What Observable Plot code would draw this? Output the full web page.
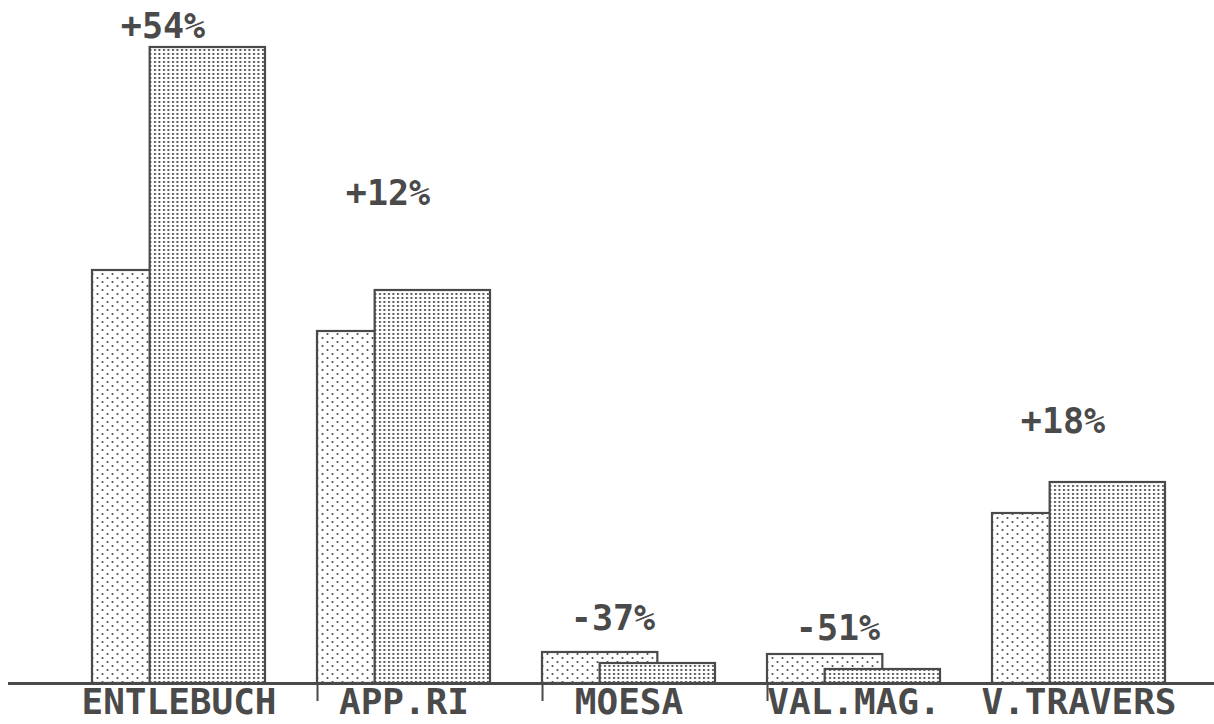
<!DOCTYPE html>
<html>
<head>
<meta charset="utf-8">
<script src="https://cdn.jsdelivr.net/npm/d3@7"></script>
<script src="https://cdn.jsdelivr.net/npm/@observablehq/plot@0.6"></script>
<style>
  html, body { margin: 0; padding: 0; background: #fff; }
  #chart svg { display: block; }
</style>
</head>
<body>
<div id="chart"></div>
<script>
// ---- data ----
const categories = ["ENTLEBUCH", "APP.RI", "MOESA", "VAL.MAG.", "V.TRAVERS"];
const before = [413, 352, 31, 29, 170];
const after = [636, 393, 20, 14, 201];
const changeLabels = ["+54%", "+12%", "-37%", "-51%", "+18%"];
const labelAt = [657, 490, 65, 55, 262];
const tickedCategories = ["APP.RI", "MOESA", "VAL.MAG."];

const rows = categories.map((c, i) => ({
  cat: c, before: before[i], after: after[i], change: changeLabels[i], labelAt: labelAt[i]
}));

// ---- layout ----
const W = 1214, H = 724;
const mL = 8, mR = 0;
const pInner = 0.233, pOuter = 0.2905;
const step = (W - mL - mR) / (categories.length - pInner + 2 * pOuter);
const bw = step * (1 - pInner);
const ink = "#4a4a4a";
const font = "DejaVu Sans Mono";

const svg = Plot.plot({
  width: W,
  height: H,
  marginTop: 47,
  marginBottom: 41,
  marginLeft: mL,
  marginRight: mR,
  x: {type: "band", domain: categories, paddingInner: pInner, paddingOuter: pOuter, align: 0.626, axis: null},
  y: {domain: [0, 636], axis: null},
  marks: [
    Plot.ruleX(tickedCategories, {x: d => d, y1: 0, y2: -18, dx: -bw / 2, stroke: ink, strokeWidth: 2}),
    Plot.rectY(rows, {x: "cat", y: "before", fill: "url(#dotsSparse)", stroke: ink, strokeWidth: 2.2, insetRight: bw / 3}),
    Plot.rectY(rows, {x: "cat", y: "after", fill: "url(#dotsDense)", stroke: ink, strokeWidth: 2.2, insetLeft: bw / 3}),
    Plot.ruleY([0], {stroke: ink, strokeWidth: 3}),
    Plot.text(rows, {x: "cat", y: 0, text: "cat", dy: 19, lineAnchor: "middle", fontSize: 36, fontWeight: "bold", fontFamily: font, fill: ink}),
    Plot.text(rows, {x: "cat", y: "labelAt", text: "change", dx: -16, fontSize: 35, fontWeight: "bold", fontFamily: font, fill: ink})
  ]
});

// patterns
const NS = "http://www.w3.org/2000/svg";
const defs = document.createElementNS(NS, "defs");
defs.innerHTML = `
  <pattern id="dotsSparse" patternUnits="userSpaceOnUse" width="10" height="8">
    <rect width="10" height="8" fill="#fff"/>
    <circle cx="2.5" cy="2" r="1.05" fill="${ink}"/>
    <circle cx="7.5" cy="6" r="1.05" fill="${ink}"/>
  </pattern>
  <pattern id="dotsDense" patternUnits="userSpaceOnUse" width="4.5" height="4">
    <rect width="4.5" height="4" fill="#fff"/>
    <rect x="1" y="1" width="1.9" height="1.9" fill="${ink}"/>
  </pattern>`;
svg.insertBefore(defs, svg.firstChild);

document.getElementById("chart").appendChild(svg);
</script>
</body>
</html>
